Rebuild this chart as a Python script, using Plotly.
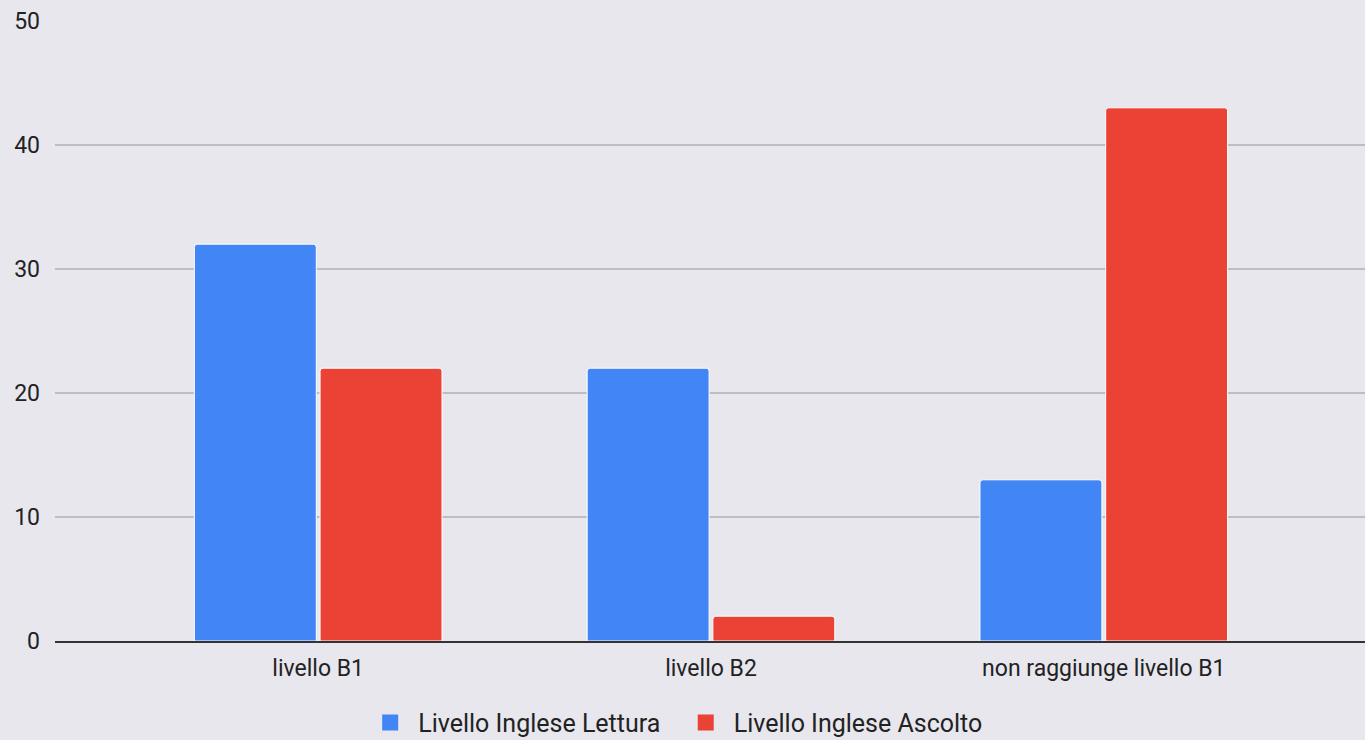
import plotly.graph_objects as go

categorie = ["livello B1", "livello B2", "non raggiunge livello B1"]
serie = ["Livello Inglese Lettura", "Livello Inglese Ascolto"]
lettura = [32, 22, 13]
ascolto = [22, 2, 43]

blu = "#4285F4"
rosso = "#EA4335"
sfondo = "#E8E7EE"

fig = go.Figure()
for nome, valori, colore in zip(serie, [lettura, ascolto], [blu, rosso]):
    fig.add_trace(go.Bar(
        x=categorie, y=valori, name=nome, legendgroup=nome, showlegend=False,
        marker=dict(color=colore, line=dict(color="white", width=1), cornerradius=3),
    ))
# voci di legenda con quadrati più grandi
for nome, colore in zip(serie, [blu, rosso]):
    fig.add_trace(go.Scatter(
        x=[None], y=[None], mode="markers", name=nome + "  ", legendgroup=nome,
        marker=dict(symbol="square", size=16, color=colore),
    ))

fig.update_layout(
    width=1365, height=740, autosize=False,
    paper_bgcolor=sfondo, plot_bgcolor=sfondo,
    font=dict(family="Roboto, Arial, sans-serif", size=23, color="#222222"),
    margin=dict(l=55, r=0, t=21, b=99, autoexpand=False),
    barmode="group", bargap=0.36, bargroupgap=0.03,
    legend=dict(
        orientation="h", x=0.478, xanchor="center", itemwidth=46,
        y=-0.132, yanchor="middle", font=dict(size=25),
    ),
    xaxis=dict(
        range=[-0.67, 2.665], showline=True, linecolor="#333333", linewidth=1.5,
        showgrid=False, ticks="", ticklabelstandoff=6,
    ),
    yaxis=dict(
        range=[0, 50], dtick=10, showgrid=True, gridcolor="#BDBDC2", gridwidth=1.5,
        zeroline=False, ticks="", ticklabelstandoff=14,
    ),
)

fig.write_html(
    "out.html",
    config={"displayModeBar": False},
    post_script="document.body.style.margin='0px';document.body.style.overflow='hidden';",
)
